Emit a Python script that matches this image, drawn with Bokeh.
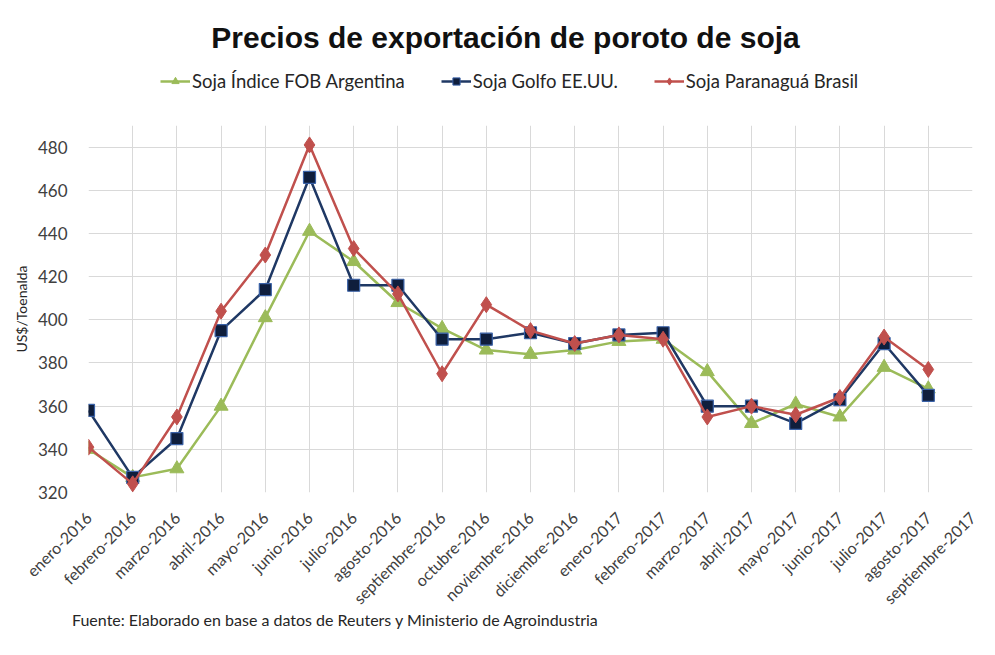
from math import pi
from bokeh.plotting import figure
from bokeh.layouts import column
from bokeh.models import FixedTicker, Label, Legend, LegendItem, Range1d, Div
from bokeh.embed import file_html
from bokeh.resources import INLINE

months = ["enero-2016", "febrero-2016", "marzo-2016", "abril-2016", "mayo-2016",
          "junio-2016", "julio-2016", "agosto-2016", "septiembre-2016", "octubre-2016",
          "noviembre-2016", "diciembre-2016", "enero-2017", "febrero-2017", "marzo-2017",
          "abril-2017", "mayo-2017", "junio-2017", "julio-2017", "agosto-2017",
          "septiembre-2017"]

argentina = [340, 327, 331, 360, 401, 441, 427, 408, 396, 386, 384, 386, 390, 391,
             376, 352, 361, 355, 378, 368]
golfo = [358, 327, 345, 395, 414, 466, 416, 416, 391, 391, 394, 389, 393, 394,
         360, 360, 352, 363, 389, 365]
paranagua = [341, 324, 355, 404, 430, 481, 433, 412, 375, 407, 395, 389, 393, 391,
             355, 360, 356, 364, 392, 377]

y_ticks = [320, 340, 360, 380, 400, 420, 440, 460, 480]

title_text = "Precios de exportación de poroto de soja"
source_text = "Fuente: Elaborado en base a datos de Reuters y Ministerio de Agroindustria"
y_label = "US$/Toenalda"
names = ["Soja Índice FOB Argentina", "Soja Golfo EE.UU.", "Soja Paranaguá Brasil"]

GREEN = "#9BBB59"
NAVY = "#1F3864"
NAVY_FILL = "#0F1E3C"
NAVY_EDGE = "#3A62A8"
RED = "#C0504D"
FONT = "Lato"

W = 995
HEAD_H, MAIN_H, FOOT_H = 118, 498, 39
xs_all = list(range(len(months)))

# ---------- header: title + legend ----------
head = figure(width=W, height=HEAD_H, output_backend="svg", toolbar_location=None,
              x_range=Range1d(0, W), y_range=Range1d(0, HEAD_H),
              x_axis_type=None, y_axis_type=None,
              min_border_left=88, min_border_right=23,
              min_border_top=0, min_border_bottom=0)
head.outline_line_color = None
head.xgrid.visible = False
head.ygrid.visible = False
head.add_layout(Label(x=417, y=HEAD_H - 37, x_units="screen", y_units="screen",
                      text=title_text, text_font="Liberation Sans",
                      text_font_size="30px", text_font_style="bold",
                      text_align="center", text_baseline="middle",
                      text_color="#111111"))
# legend keys: same series, drawn outside this header's visible range
k1 = head.line(xs_all[:len(argentina)], argentina, line_color=GREEN, line_width=2.5)
k1m = head.scatter(xs_all[:len(argentina)], argentina, marker="triangle", size=12,
                   fill_color=GREEN, line_color=GREEN)
k2 = head.line(xs_all[:len(golfo)], golfo, line_color=NAVY, line_width=2.5)
k2m = head.scatter(xs_all[:len(golfo)], golfo, marker="square", size=10,
                   fill_color=NAVY_FILL, line_color=NAVY_EDGE)
k3 = head.line(xs_all[:len(paranagua)], paranagua, line_color=RED, line_width=2.5)
k3m = head.scatter(xs_all[:len(paranagua)], paranagua, marker="diamond", size=14,
                   fill_color=RED, line_color=RED)
legend = Legend(items=[LegendItem(label=names[0], renderers=[k1, k1m]),
                       LegendItem(label=names[1], renderers=[k2, k2m]),
                       LegendItem(label=names[2], renderers=[k3, k3m])],
                orientation="horizontal", location=(72, 26),
                label_text_font=FONT, label_text_font_size="18.5px",
                label_text_color="#262626", glyph_width=30, glyph_height=18,
                label_standoff=2, spacing=36, padding=0, margin=0,
                border_line_color=None, background_fill_alpha=0)
head.add_layout(legend, "center")

# ---------- main chart ----------
p = figure(width=W, height=MAIN_H, output_backend="svg", toolbar_location=None,
           x_range=Range1d(0, len(months) - 1), y_range=Range1d(320, 490),
           min_border_left=88, min_border_right=23, min_border_top=7,
           min_border_bottom=MAIN_H - 7 - 367)
p.outline_line_color = None
p.background_fill_color = "white"
p.border_fill_color = "white"

p.xaxis.ticker = FixedTicker(ticks=xs_all)
p.xaxis.major_label_overrides = {i: m for i, m in enumerate(months)}
p.xaxis.major_label_orientation = pi / 4
p.xaxis.major_label_text_font = FONT
p.xaxis.major_label_text_font_size = "16px"
p.xaxis.major_label_text_color = "#404040"
p.xaxis.major_label_standoff = 16
p.yaxis.ticker = FixedTicker(ticks=y_ticks)
p.yaxis.major_label_text_font = FONT
p.yaxis.major_label_text_font_size = "17px"
p.yaxis.major_label_text_color = "#404040"
p.yaxis.major_label_standoff = 15
p.yaxis.axis_label = y_label
p.yaxis.axis_label_text_font = FONT
p.yaxis.axis_label_text_font_size = "14px"
p.yaxis.axis_label_text_font_style = "normal"
p.yaxis.axis_label_text_color = "#262626"
p.yaxis.axis_label_standoff = 5
for ax in (p.xaxis, p.yaxis):
    ax.axis_line_color = None
    ax.major_tick_line_color = None
    ax.minor_tick_line_color = None

p.xgrid.ticker = FixedTicker(ticks=xs_all)
p.ygrid.ticker = FixedTicker(ticks=y_ticks)
p.xgrid.grid_line_color = "#d9d9d9"
p.ygrid.grid_line_color = "#d9d9d9"

p.line(xs_all[:len(argentina)], argentina, line_color=GREEN, line_width=2.5)
p.scatter(xs_all[:len(argentina)], argentina, marker="triangle", size=14,
          fill_color=GREEN, line_color=GREEN)
p.line(xs_all[:len(golfo)], golfo, line_color=NAVY, line_width=2.5)
p.scatter(xs_all[:len(golfo)], golfo, marker="square", size=12,
          fill_color=NAVY_FILL, line_color=NAVY_EDGE, line_width=1.2)
p.line(xs_all[:len(paranagua)], paranagua, line_color=RED, line_width=2.5)
p.scatter(xs_all[:len(paranagua)], paranagua, marker="diamond", size=16,
          fill_color=RED, line_color=RED)

# ---------- footer: source ----------
foot = Div(text='<span style="position:relative; top:-6px">' + source_text + '</span>',
           width=W - 72, height=FOOT_H, margin=(0, 0, 0, 72),
           styles={"font-family": FONT, "font-size": "16px", "color": "#262626",
                   "line-height": "19px", "overflow": "visible"})

layout = column(head, p, foot, spacing=0)
open("out.html", "w").write(file_html(layout, INLINE))
